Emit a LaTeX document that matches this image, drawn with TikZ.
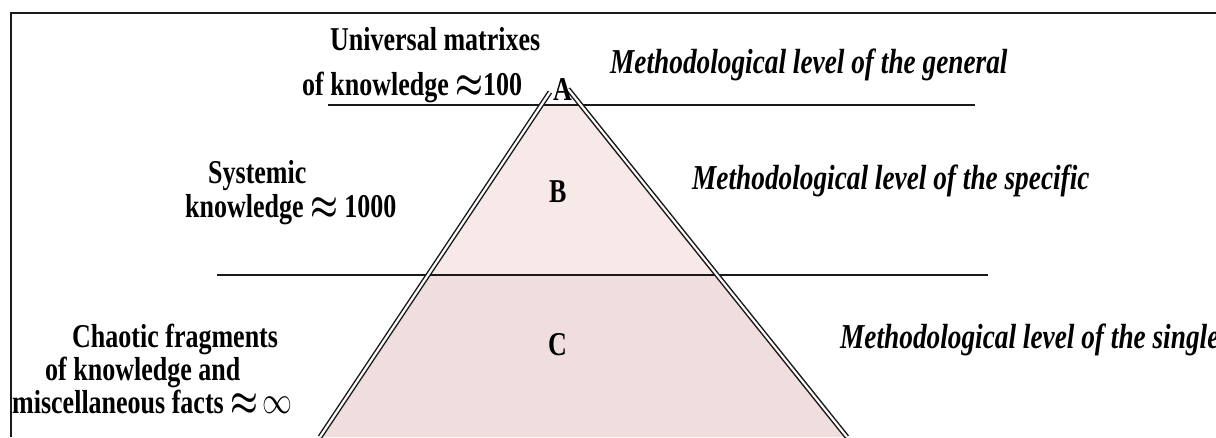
\documentclass[tikz,border=0pt]{standalone}
\usepackage{fontspec}
\setmainfont{Liberation Serif}
\definecolor{pinkB}{HTML}{F8E9E9}
\definecolor{pinkC}{HTML}{F0DEDE}
\definecolor{linegray}{HTML}{1A1A1A}
\newcommand{\tall}[1]{\scalebox{1}[1.28]{#1}}
\newcommand{\apx}{\raisebox{-0.1ex}{\scalebox{1.25}{\boldmath$\approx$}}}
\newcommand{\infy}{\scalebox{1.2}{$\infty$}}
\begin{document}
\begin{tikzpicture}[x=1pt,y=-1pt,
  lbl/.style={font=\fontsize{26}{30}\selectfont\bfseries, inner sep=0pt, anchor=base west},
  ilbl/.style={font=\fontsize{27.3}{30}\selectfont\bfseries\itshape, inner sep=0pt, anchor=base west},
  side/.style={draw=linegray, line width=1.5pt, double=white, double distance=2.1pt},
  level/.style={draw=linegray, line width=1.8pt},
  frameline/.style={draw=linegray, line width=2.2pt}]
\useasboundingbox (0,0) rectangle (1216,437);
% pyramid geometry
\coordinate (LT) at (550,92);
\coordinate (RT) at (568,89);
\coordinate (L1) at (541,105);
\coordinate (R1) at (580,105);
\coordinate (L2) at (428,275);
\coordinate (R2) at (717,275);
\coordinate (LB) at (320,437);
\coordinate (RB) at (847,437);
% fills
\fill[pinkB] (L1) -- (R1) -- (R2) -- (L2) -- cycle;
\fill[pinkC] (L2) -- (R2) -- (RB) -- (LB) -- cycle;
% frame
\coordinate (F0) at (11,437);
\coordinate (F1) at (11,13);
\coordinate (F2) at (1216,13);
\draw[frameline] (F0) -- (F1) -- (F2);
% level lines
\coordinate (H1a) at (328,105);
\coordinate (H1b) at (975,105);
\coordinate (H2a) at (217,275);
\coordinate (H2b) at (988,275);
\draw[level] (H1a) -- (H1b);
\draw[level] (H2a) -- (H2b);
% sides
\draw[side] (LT) -- (LB);
\draw[side] (RT) -- (RB);
% letters
\node[lbl] (A) at (553,100) {\tall{A}};
\node[lbl] (B) at (549,202) {\tall{B}};
\node[lbl] (C) at (548,355) {\tall{C}};
% left labels
\node[lbl] (u1) at (330,50) {\tall{Universal matrixes}};
\node[lbl] (u2) at (302,95) {\tall{of knowledge \apx100}};
\node[lbl] (s1) at (208,183) {\tall{Systemic}};
\node[lbl] (s2) at (185,217) {\tall{knowledge \apx\ 1000}};
\node[lbl] (c1) at (72,347) {\tall{Chaotic fragments}};
\node[lbl] (c2) at (45,380) {\tall{of knowledge and}};
\node[lbl] (c3) at (12,413) {\tall{miscellaneous facts \apx\,\infy}};
% right labels
\node[ilbl] (m1) at (610,73) {\tall{Methodological level of the general}};
\node[ilbl] (m2) at (692,189) {\tall{Methodological level of the specific}};
\node[ilbl] (m3) at (840,348) {\tall{Methodological level of the single}};
\end{tikzpicture}
\end{document}
